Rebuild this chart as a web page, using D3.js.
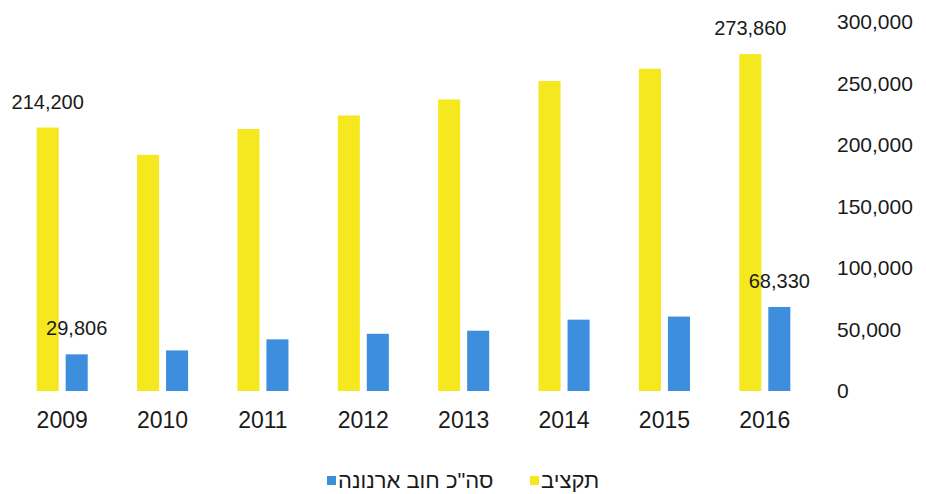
<!DOCTYPE html>
<html>
  <head>
    <meta charset="utf-8">
    <style>
      body { margin: 0; background: #fff; }
      svg { display: block; font-family: "Liberation Sans", Arial, sans-serif; }
    </style>
  </head>
  <body>
    <script src="https://d3js.org/d3.v7.min.js"></script>
    <script type="text/javascript">
      const width = 926;
      const height = 494;

      const years = ['2009', '2010', '2011', '2012', '2013', '2014', '2015', '2016'];
      const budget = [214200, 192000, 213000, 224000, 237000, 252000, 262000, 273860];
      const debt = [29806, 33000, 42000, 46500, 49000, 58000, 60500, 68330];
      const yTicks = [0, 50000, 100000, 150000, 200000, 250000, 300000];
      const seriesKeys = ['budget', 'debt'];
      const seriesNames = ['תקציב', 'סה"כ חוב ארנונה'];
      const colors = ['#F6E81E', '#3D8EDC'];

      const rows = years.map((y, i) => ({ year: y, budget: budget[i], debt: debt[i] }));

      const svg = d3.select('body')
        .append('svg')
        .attr('width', width)
        .attr('height', height);

      const x = d3.scaleBand()
        .domain(years)
        .range([12, 815]);

      const xSub = d3.scaleBand()
        .domain(seriesKeys)
        .range([0, x.bandwidth()])
        .paddingInner(0.24)
        .paddingOuter(0.85);

      const y = d3.scaleLinear()
        .domain([0, 300000])
        .range([391, 22]);

      // bars
      svg.append('g')
        .selectAll('g')
        .data(rows)
        .enter()
        .append('g')
        .attr('transform', (d) => `translate(${x(d.year)},0)`)
        .selectAll('rect')
        .data((d) => seriesKeys.map((k) => ({ key: k, value: d[k] })))
        .enter()
        .append('rect')
        .attr('x', (d) => xSub(d.key))
        .attr('y', (d) => y(d.value))
        .attr('width', xSub.bandwidth())
        .attr('height', (d) => y(0) - y(d.value))
        .attr('fill', (d) => colors[seriesKeys.indexOf(d.key)]);

      // data labels on first and last bars
      const fmt = d3.format(',');
      const labelled = [];
      [0, years.length - 1].forEach((i) => {
        seriesKeys.forEach((k) => labelled.push({ year: years[i], key: k, value: rows[i][k] }));
      });

      svg.append('g')
        .selectAll('text')
        .data(labelled)
        .enter()
        .append('text')
        .attr('x', (d) => x(d.year) + xSub(d.key) + xSub.bandwidth() / 2)
        .attr('y', (d) => y(d.value) - 19)
        .attr('text-anchor', 'middle')
        .attr('font-size', 20)
        .attr('fill', '#1a1a1a')
        .text((d) => fmt(d.value));

      // right value axis
      const yAxis = svg.append('g')
        .attr('transform', 'translate(837,0)')
        .call(d3.axisRight(y).tickValues(yTicks).tickSize(0).tickPadding(0).tickFormat(fmt));
      yAxis.select('.domain').remove();
      yAxis.selectAll('text')
        .attr('font-size', 21)
        .attr('font-family', '"Liberation Sans", Arial, sans-serif')
        .attr('fill', '#1a1a1a');

      // category axis
      const xAxis = svg.append('g')
        .attr('transform', `translate(0,${y(0)})`)
        .call(d3.axisBottom(x).tickSize(0).tickPadding(21));
      xAxis.select('.domain').remove();
      xAxis.selectAll('text')
        .attr('font-size', 23)
        .attr('font-family', '"Liberation Sans", Arial, sans-serif')
        .attr('fill', '#1a1a1a');

      // legend
      const legendItems = [
        { name: seriesNames[1], color: colors[1], x: 327 },
        { name: seriesNames[0], color: colors[0], x: 530 },
      ];
      const legend = svg.append('g');
      legendItems.forEach((item) => {
        legend.append('rect')
          .attr('x', item.x)
          .attr('y', 476)
          .attr('width', 9)
          .attr('height', 9)
          .attr('fill', item.color);
        legend.append('text')
          .attr('x', item.x + 11)
          .attr('y', 488)
          .attr('font-size', 22)
          .attr('fill', '#1a1a1a')
          .text(item.name);
      });
    </script>
  </body>
</html>
